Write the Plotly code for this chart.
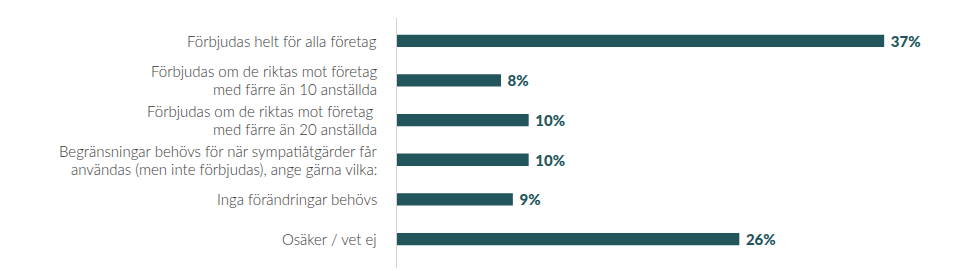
import plotly.graph_objects as go

categories = [
    "Förbjudas helt för alla företag",
    "Förbjudas om de riktas mot företag<br>med färre än 10 anställda",
    "Förbjudas om de riktas mot företag\u00a0<br>med färre än 20 anställda",
    "Begränsningar behövs för när sympatiåtgärder får<br>användas (men inte förbjudas), ange gärna vilka:",
    "Inga förändringar behövs",
    "Osäker / vet ej",
]
values = [37.0, 7.9, 10.0, 10.0, 8.8, 26.0]
value_labels = ["37%", "8%", "10%", "10%", "9%", "26%"]

BAR = "#22555c"
TXT = "#3a3a3a"
LINE_GAP = 18  # px between the two lines of a wrapped label

fig = go.Figure(
    go.Bar(
        x=values,
        y=categories,
        orientation="h",
        marker=dict(color=BAR, line=dict(width=0)),
        width=0.31,
        text=["\u00a0" + t for t in value_labels],
        textposition="outside",
        constraintext="none",
        textfont=dict(family="Lato", size=15, color=BAR, weight=900),
        cliponaxis=False,
        hoverinfo="skip",
    )
)

# category labels as annotations (tighter line spacing like the reference)
for cat in categories:
    lines = cat.split("<br>")
    n = len(lines)
    for i, ln in enumerate(lines):
        shift = ((n - 1) / 2 - i) * LINE_GAP
        fig.add_annotation(
            x=0, y=cat, xref="x", yref="y",
            text=ln, showarrow=False,
            xanchor="right", yanchor="middle",
            xshift=-19, yshift=shift,
            borderpad=0,
            font=dict(family="Lato", size=15, color=TXT, weight=300),
        )

fig.update_layout(
    width=978,
    height=271,
    margin=dict(l=397, r=28, t=18, b=3),
    paper_bgcolor="white",
    plot_bgcolor="white",
    showlegend=False,
    font=dict(family="Lato", size=15, color=TXT),
)
fig.update_xaxes(
    range=[0, 42],
    showgrid=False,
    zeroline=False,
    showticklabels=False,
    showline=False,
    fixedrange=True,
)
fig.update_yaxes(
    type="category",
    categoryorder="array",
    categoryarray=categories,
    range=[5.73, -0.575],
    showgrid=False,
    zeroline=False,
    showline=True,
    linecolor="#d3d3d3",
    linewidth=1,
    ticks="",
    showticklabels=False,
    fixedrange=True,
)

fig.write_html("out.html")
